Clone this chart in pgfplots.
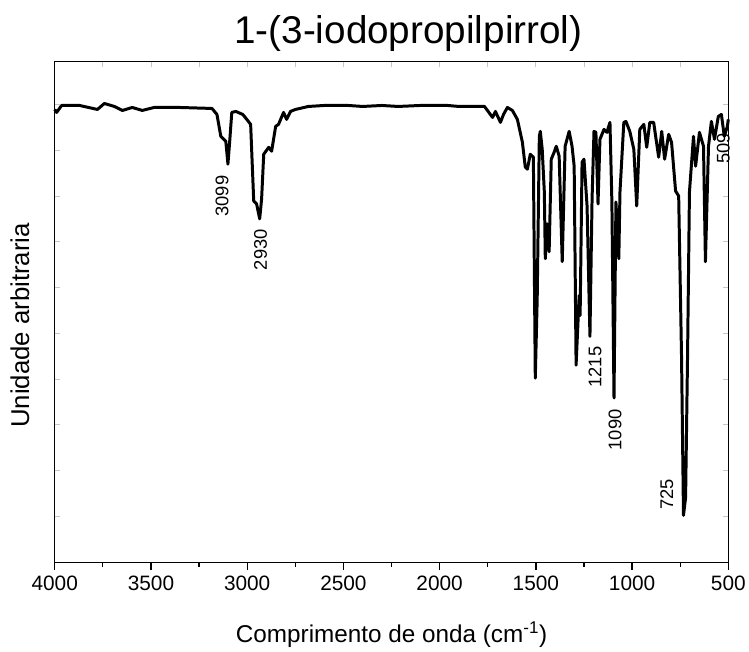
\documentclass[border=0pt]{standalone}
\usepackage{fontspec}
\setmainfont{Liberation Sans}
\usepackage{pgfplots}
\pgfplotsset{compat=1.18}
\begin{document}
\begin{tikzpicture}
\begin{axis}[
 width=677bp, height=503bp, scale only axis,
 x dir=reverse, xmin=500, xmax=4000, ymin=0, ymax=503,
 axis line style={draw=none},
 xtick={500,750,...,4000}, xticklabels={}, xtick pos=top,
 ytick={0,46,...,460}, yticklabels={}, ytick pos=both,
 tick align=inside, major tick length=5bp,
 tick style={gray!45, line width=0.8bp},
]
\end{axis}
\begin{axis}[
 name=ax,
 width=677bp, height=503bp, scale only axis,
 x dir=reverse, xmin=500, xmax=4000, ymin=0, ymax=503,
 xtick={500,1000,...,4000}, minor xtick={750,1250,...,3750},
 xtick pos=bottom, tick align=outside,
 major tick length=8bp, minor tick length=5bp,
 ytick=\empty,
 axis line style={line width=1.3bp},
 tick style={line width=1.3bp, black},
 xticklabel style={font=\fontsize{21}{21}\selectfont, yshift=-2bp},
 /pgf/number format/assume math mode=true,
 /pgf/number format/1000 sep={},
 xlabel={Comprimento de onda (cm\textsuperscript{-1})},
 xlabel style={font=\fontsize{24.5}{24.5}\selectfont, at={(axis description cs:0.5,-0.161)}, anchor=base},
 ylabel={Unidade arbitraria},
 ylabel style={font=\fontsize{26}{26}\selectfont, at={(axis description cs:-0.0517,0.473)}, anchor=center},
 title={1-(3-iodopropilpirrol)},
 title style={font=\fontsize{39}{39}\selectfont, at={(axis description cs:0.525,1.024)}, anchor=base},
 clip=false,
]
\addplot[black, line width=3bp, line join=round] table {
4000 455
3990 452
3964 459
3871 459
3778 455
3742 461
3690 458
3648 454
3597 457
3545 454
3483 457
3354 457
3183 456
3157 450
3137 428
3111 423
3100 400
3090 425
3080 452
3059 453
3023 450
3002 445
2982 440
2966 363
2951 360
2935 345
2925 365
2914 410
2888 417
2873 413
2852 438
2837 440
2811 452
2795 445
2775 453
2749 455
2682 458
2600 459
2475 459
2400 458
2300 459
2216 458
2100 459
1958 459
1900 458
1803 458
1767 458
1725 447
1710 453
1684 442
1668 450
1648 457
1622 454
1596 445
1570 422
1555 397
1544 395
1529 410
1513 407
1503 185
1493 265
1482 428
1477 433
1467 415
1456 372
1451 305
1441 340
1431 312
1420 405
1405 412
1394 418
1379 408
1363 302
1348 418
1327 433
1312 418
1301 398
1291 198
1275 268
1270 248
1260 402
1250 405
1234 358
1219 227
1208 365
1198 433
1188 432
1177 360
1167 425
1146 435
1131 432
1115 442
1105 362
1094 165
1084 362
1069 305
1063 372
1043 442
1032 443
1012 433
991 415
976 358
960 435
939 440
924 417
908 442
888 442
862 407
846 433
831 405
810 430
795 422
774 373
758 368
743 205
733 47
722 65
712 205
702 372
681 428
670 398
650 432
629 418
619 302
603 418
588 443
572 425
552 448
536 450
521 428
505 438
500 445
};
\node[rotate=90, font=\fontsize{18.5}{18.5}\selectfont] at (axis cs:3131,368) {3099};
\node[rotate=90, font=\fontsize{18.5}{18.5}\selectfont] at (axis cs:2930,314) {2930};
\node[rotate=90, font=\fontsize{18.5}{18.5}\selectfont] at (axis cs:1193,196) {1215};
\node[rotate=90, font=\fontsize{18.5}{18.5}\selectfont] at (axis cs:1089,133) {1090};
\node[rotate=90, font=\fontsize{18.5}{18.5}\selectfont] at (axis cs:820,68) {725};
\node[rotate=90, font=\fontsize{18.5}{18.5}\selectfont] at (axis cs:526,416) {509};
\end{axis}
\path ([xshift=-55bp,yshift=-88bp]ax.south west) rectangle ([xshift=17bp,yshift=62bp]ax.north east);
\end{tikzpicture}
\end{document}
